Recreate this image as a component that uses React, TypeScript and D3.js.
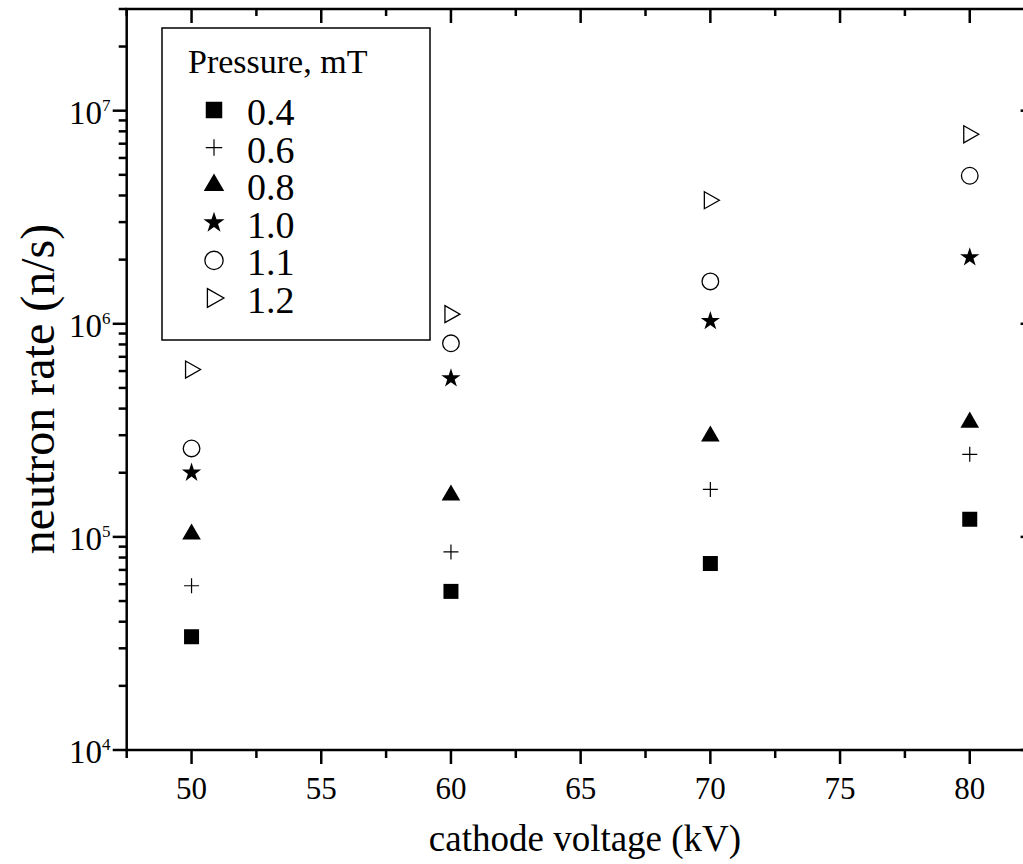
import { useEffect, useRef } from 'react'
import * as d3 from 'd3'

// cathode voltage (kV)
const voltages = [50, 60, 70, 80]

// neutron rate (n/s) for each pressure, in the order of the voltages
const p04 = [3.4e4, 5.55e4, 7.5e4, 1.21e5]
const p06 = [5.9e4, 8.5e4, 1.67e5, 2.44e5]
const p08 = [1.03e5, 1.57e5, 2.97e5, 3.45e5]
const p10 = [2.0e5, 5.55e5, 1.03e6, 2.05e6]
const p11 = [2.6e5, 8.1e5, 1.58e6, 4.95e6]
const p12 = [6.1e5, 1.11e6, 3.8e6, 7.75e6]

const pressureLabels = ['0.4', '0.6', '0.8', '1.0', '1.1', '1.2']
const seriesValues = [p04, p06, p08, p10, p11, p12]
const markerKinds = ['square', 'plus', 'triangle', 'star', 'circle', 'triright']

const xTicks = [50, 55, 60, 65, 70, 75, 80]
const yDecades = [4, 5, 6, 7]

const FONT = '"Liberation Serif", "Times New Roman", serif'

function drawMarker(g, kind, k = 1) {
  if (kind === 'square') {
    const s = 15 * k
    g.append('rect').attr('x', -s / 2).attr('y', -s / 2).attr('width', s).attr('height', s).attr('fill', '#000')
  } else if (kind === 'plus') {
    const h = 7.5 * k
    g.append('path').attr('d', `M${-h},0H${h}M0,${-h}V${h}`).attr('stroke', '#000').attr('stroke-width', 1.2).attr('fill', 'none')
  } else if (kind === 'triangle') {
    g.append('path').attr('d', d3.symbol(d3.symbolTriangle, 150 * k * k)()).attr('fill', '#000')
  } else if (kind === 'star') {
    g.append('path').attr('d', d3.symbol(d3.symbolStar, 115 * k * k)()).attr('fill', '#000')
  } else if (kind === 'circle') {
    g.append('circle').attr('r', 8.3 * k).attr('fill', 'none').attr('stroke', '#000').attr('stroke-width', 1.3)
  } else {
    g.append('path').attr('d', `M${-6 * k},${-8.5 * k}L${9 * k},0L${-6 * k},${8.5 * k}Z`)
      .attr('fill', 'none').attr('stroke', '#000').attr('stroke-width', 1.3)
  }
}

export default function App() {
  const ref = useRef(null)

  useEffect(() => {
    const svg = d3.select(ref.current)
    svg.selectAll('*').remove()

    const x = d3.scaleLinear().domain([47.5, 82.5]).range([126.7, 1034.6])
    const y = d3.scaleLog().domain([1e4, 3e7]).range([750, 9])
    const [x0, x1] = x.range()
    const [yb, yt] = y.range()

    const minorX = d3.range(47.5, 82.6, 2.5).filter(v => !xTicks.includes(v))
    const minorY = []
    for (let d = 4; d <= 7; d++) {
      for (let k = 2; k <= 9; k++) {
        const v = k * Math.pow(10, d)
        if (v <= 3e7) minorY.push(v)
      }
    }

    const axes = svg.append('g').attr('stroke', '#000').attr('fill', 'none')

    // frame
    axes.append('rect').attr('x', x0).attr('y', yt).attr('width', x1 - x0).attr('height', yb - yt)
      .attr('stroke-width', 2.5)

    // bottom ticks point out, top ticks point in
    xTicks.forEach(v => {
      axes.append('line').attr('x1', x(v)).attr('x2', x(v)).attr('y1', yb).attr('y2', yb + 14).attr('stroke-width', 2.5)
      axes.append('line').attr('x1', x(v)).attr('x2', x(v)).attr('y1', yt).attr('y2', yt + 14).attr('stroke-width', 2.5)
    })
    minorX.forEach(v => {
      axes.append('line').attr('x1', x(v)).attr('x2', x(v)).attr('y1', yb).attr('y2', yb + 8).attr('stroke-width', 2.5)
      axes.append('line').attr('x1', x(v)).attr('x2', x(v)).attr('y1', yt).attr('y2', yt + 7).attr('stroke-width', 2.5)
    })

    // left ticks point out, right ticks point in
    yDecades.forEach(d => {
      const v = Math.pow(10, d)
      axes.append('line').attr('x1', x0 - 14).attr('x2', x0).attr('y1', y(v)).attr('y2', y(v)).attr('stroke-width', 2.5)
      axes.append('line').attr('x1', x1 - 14).attr('x2', x1).attr('y1', y(v)).attr('y2', y(v)).attr('stroke-width', 2.5)
    })
    minorY.forEach(v => {
      axes.append('line').attr('x1', x0 - 8).attr('x2', x0).attr('y1', y(v)).attr('y2', y(v)).attr('stroke-width', 2.5)
      axes.append('line').attr('x1', x1 - 8).attr('x2', x1).attr('y1', y(v)).attr('y2', y(v)).attr('stroke-width', 2.5)
    })

    // tick labels
    const labels = svg.append('g').attr('font-family', FONT).attr('fill', '#000')
    xTicks.forEach(v => {
      labels.append('text').attr('x', x(v)).attr('y', 799).attr('text-anchor', 'middle')
        .attr('font-size', 31).text(v)
    })
    yDecades.forEach(d => {
      const t = labels.append('text').attr('x', 69).attr('y', y(Math.pow(10, d)) + 13)
        .attr('font-size', 33)
      t.append('tspan').text('10')
      t.append('tspan').attr('font-size', 17).attr('dy', -13).text(d)
    })

    // axis titles
    labels.append('text').attr('x', 585).attr('y', 851).attr('text-anchor', 'middle')
      .attr('font-size', 37).text('cathode voltage (kV)')
    labels.append('text').attr('transform', 'translate(54,389) rotate(-90)').attr('text-anchor', 'middle')
      .attr('font-size', 48).text('neutron rate (n/s)')

    // data
    const plot = svg.append('g')
    seriesValues.forEach((vals, i) => {
      vals.forEach((v, j) => {
        const g = plot.append('g').attr('transform', `translate(${x(voltages[j])},${y(v)})`)
        drawMarker(g, markerKinds[i])
      })
    })

    // legend
    const legend = svg.append('g').attr('font-family', FONT)
    legend.append('rect').attr('x', 162).attr('y', 28).attr('width', 268).attr('height', 312)
      .attr('fill', '#fff').attr('stroke', '#000').attr('stroke-width', 1.5)
    legend.append('text').attr('x', 188).attr('y', 73).attr('font-size', 34)
      .text('Pressure, mT')
    pressureLabels.forEach((lab, i) => {
      const base = 125 + i * 37.6
      const g = legend.append('g').attr('transform', `translate(214,${base - 15})`)
      drawMarker(g, markerKinds[i], 1.1)
      legend.append('text').attr('x', 247).attr('y', base).attr('font-size', 38)
        .text(lab)
    })
  }, [])

  return (
    <svg ref={ref} width={1023} height={864}
      style={{ position: 'absolute', left: 0, top: 0, background: '#fff' }} />
  )
}
